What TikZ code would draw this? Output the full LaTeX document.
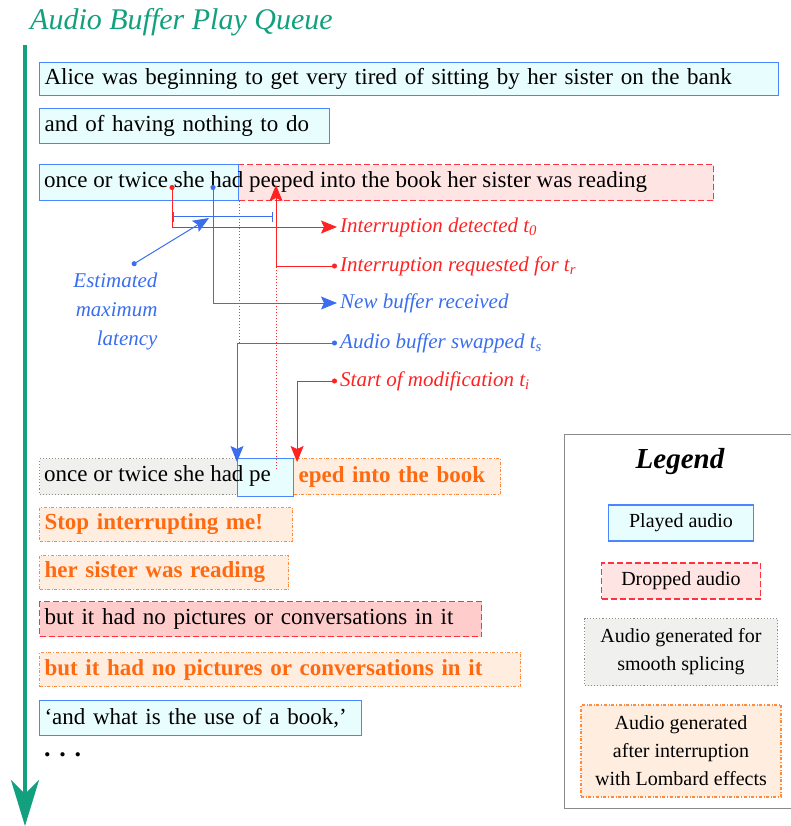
\documentclass[tikz,border=0pt]{standalone}
\usepackage{fontspec}
\setmainfont{Liberation Serif}
\usetikzlibrary{arrows.meta}
\definecolor{queueteal}{HTML}{12A07E}
\definecolor{playblue}{HTML}{4A86FF}
\definecolor{playfill}{HTML}{E8FEFE}
\definecolor{dropred}{HTML}{FF3340}
\definecolor{dropfill}{HTML}{FFE4E4}
\definecolor{dropdeep}{HTML}{FFCCCC}
\definecolor{splicegray}{HTML}{8C8C80}
\definecolor{splicefill}{HTML}{F0F0EE}
\definecolor{lombardorange}{HTML}{FF8A3A}
\definecolor{lombardfill}{HTML}{FFEEDF}
\definecolor{lombardtext}{HTML}{FF6A10}
\definecolor{labelred}{HTML}{FF2222}
\definecolor{labelblue}{HTML}{3A6EEE}
\definecolor{framegray}{HTML}{8A8A8A}

\begin{document}
\begin{tikzpicture}[x=1pt, y=-1pt,
  buffer/.style={anchor=north west, minimum height=35pt, inner xsep=5pt, inner ysep=0pt,
                 align=left, font=\fontsize{23}{28}\selectfont},
  played/.style={buffer, draw=playblue, fill=playfill, line width=1.1pt},
  dropped/.style={buffer, draw=dropred, fill=dropfill, dash pattern=on 6pt off 3pt, line width=1.1pt},
  spliced/.style={buffer, draw=splicegray, fill=splicefill, dotted, line width=1.1pt},
  lombard/.style={buffer, draw=lombardorange, fill=lombardfill, dash dot, line width=1.1pt,
                  text=lombardtext, font=\fontsize{23}{28}\selectfont\bfseries},
  keybox/.style={anchor=center, align=center, font=\fontsize{20}{28}\selectfont, text=black},
  event/.style={anchor=west, inner xsep=3pt, font=\fontsize{21}{24}\selectfont\itshape},
  redline/.style={draw=labelred, line width=1pt},
  blueline/.style={draw=labelblue, line width=1pt},
  guide/.style={line width=0.8pt, dash pattern=on 1pt off 2pt},
  dottip/.style={{Circle[length=5pt]}-{Stealth[length=16pt, width=13pt, inset=3pt]}}
]
\useasboundingbox (0,0) rectangle (790,826);

% time axis
\node[anchor=base west, inner xsep=4pt, text=queueteal, font=\fontsize{30}{34}\selectfont\itshape]
  (title) at (26,30) {Audio Buffer Play Queue};
\coordinate (qtop) at (25,45);
\coordinate (qbot) at (25,826);
\draw[queueteal, line width=4.5pt, -{Stealth[length=46pt, width=28pt, inset=14pt]}] (qtop) -- (qbot);

% queue before the interruption
\node[played, minimum height=33pt, text width=729pt] (alice) at (39,62)
  {Alice was beginning to get very tired of sitting by her sister on the bank};
\node[played, text width=280pt] (nothing) at (39,108) {and of having nothing to do};
\node[dropped, minimum width=475pt, minimum height=36pt] (late) at (238,164) {};
\node[played, minimum width=199pt, minimum height=36pt] (early) at (39,164) {};
\node[anchor=west, inner xsep=5pt, font=\fontsize{23}{28}\selectfont] (peeped) at (39,182)
  {once or twice she had peeped into the book her sister was reading};

% events
\coordinate (det) at (172,185);
\coordinate (recv) at (213,185);
\coordinate (req) at (276,185);
\coordinate (latL) at (173,217);
\coordinate (latR) at (273,217);
\coordinate (latdot) at (132,265);
\coordinate (lattip) at (209,218);
\node[event, text=labelred] (ldet) at (337,227) {Interruption detected t\textsubscript{0}};
\node[event, text=labelred] (lreq) at (337,266) {Interruption requested for t\textsubscript{r}};
\node[event, text=labelblue] (lnew) at (337,303) {New buffer received};
\node[event, text=labelblue] (lswap) at (337,343) {Audio buffer swapped t\textsubscript{s}};
\node[event, text=labelred] (lstart) at (337,381) {Start of modification t\textsubscript{i}};
\node[anchor=east, align=right, text=labelblue, font=\fontsize{21}{29}\selectfont\itshape]
  (latency) at (161,311) {Estimated\\maximum\\latency};

% queue after the interruption
\node[spliced, minimum width=198pt, minimum height=36pt] (smooth) at (39,458) {};
\node[lombard, minimum height=36pt, text width=197pt] (resume) at (293,458) {eped into the book};
\node[played, minimum width=56pt, minimum height=38pt] (pe) at (237,458) {};
\node[anchor=west, inner xsep=5pt, font=\fontsize{23}{28}\selectfont] (splice) at (39,476)
  {once or twice she had pe};
\node[lombard, minimum height=34pt, text width=243pt] (stop) at (39,507) {Stop interrupting me!};
\node[lombard, minimum height=34pt, text width=239pt] (sister) at (39,555) {her sister was reading};
\node[dropped, fill=dropdeep, text width=432pt] (nopics) at (39,601)
  {but it had no pictures or conversations in it};
\node[lombard, minimum height=34pt, text width=471pt] (nopicsb) at (39,652)
  {but it had no pictures or conversations in it};
\node[played, text width=312pt] (book) at (39,700) {\mbox{`and what is the use of a book,'}};
\node[anchor=base west, inner xsep=5pt, font=\fontsize{26}{28}\selectfont\bfseries] (more) at (39,756) {. . .};

% connectors
\draw[redline, dottip] (det) |- (ldet.west);
\draw[redline, dottip] (lreq.west) -| (req);
\draw[blueline, dottip] (recv) |- (lnew.west);
\draw[blueline, {Bar[width=10pt]}-{Bar[width=10pt]}] (latL) -- (latR);
\draw[blueline, dottip] (latdot) -- (lattip);
\draw[blueline, guide] (early.south east) -- (early.south east |- lswap.west);
\draw[redline, guide] (req |- late.south) -- ([yshift=-12pt]req |- pe.north);
\draw[blueline, dottip] (lswap.west) -| ([yshift=-4pt]pe.north west);
\draw[redline, dottip] (lstart.west) -| ([xshift=3pt, yshift=-4pt]pe.north east);

% legend
\node[draw=framegray, line width=1pt, anchor=north west, minimum width=228pt, minimum height=374pt]
  (legend) at (564,434) {};
\node[font=\fontsize{29}{32}\selectfont\bfseries\itshape] (legendtitle) at (680,462) {Legend};
\node[played, keybox, minimum width=145pt, minimum height=36pt] (keyplayed) at (681,523) {Played audio};
\node[dropped, keybox, minimum width=159pt, minimum height=36pt] (keydropped) at (681,581) {Dropped audio};
\node[spliced, keybox, minimum width=193pt, minimum height=67pt] (keyspliced) at (681,652)
  {Audio generated for\\smooth splicing};
\node[lombard, keybox, minimum width=200pt, minimum height=92pt] (keylombard) at (681,751)
  {Audio generated\\after interruption\\with Lombard effects};
\end{tikzpicture}
\end{document}
